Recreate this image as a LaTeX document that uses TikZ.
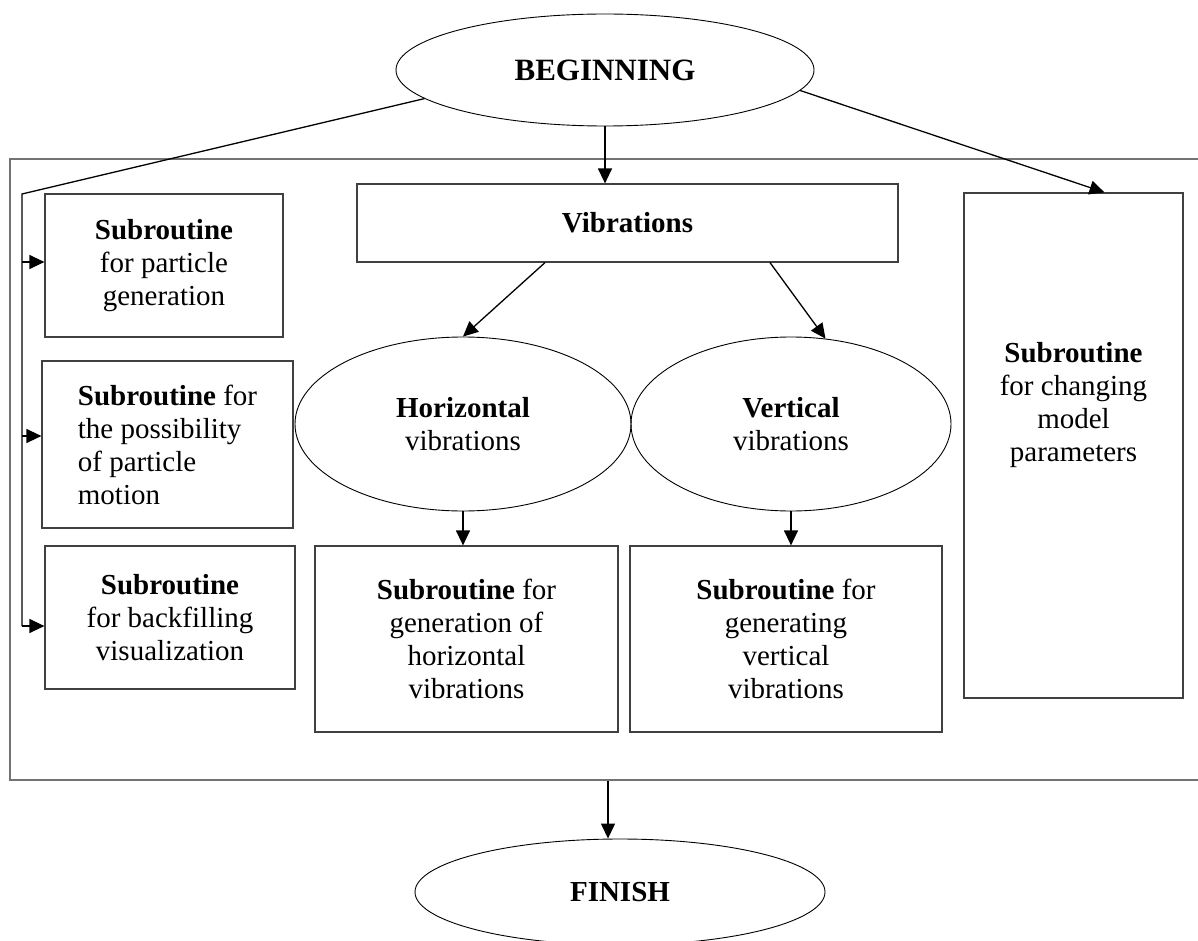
\documentclass[tikz,border=0pt]{standalone}
\usepackage{fontspec}
\setmainfont{Liberation Serif}
\usetikzlibrary{shapes.geometric,arrows.meta,calc}

\tikzset{
  txt/.style={font=\fontsize{29}{33}\selectfont},
  box/.style={txt, draw=black!75, line width=1.2pt, inner sep=0pt, align=center},
  oval/.style={txt, draw, ellipse, line width=0.9pt, inner sep=0pt, align=center},
  arr/.style={-{Triangle[length=15pt,width=14pt]}, line width=1.3pt},
}

\begin{document}
\begin{tikzpicture}[x=1pt,y=-1pt]
  \useasboundingbox (0,0) rectangle (1198,941);
  % outer frame
  \node[draw=black!55, line width=2pt, minimum width=1205pt, minimum height=621pt, inner sep=0pt] (frame) at (612.5,469.5) {};

  \node[oval, minimum width=418pt, minimum height=112pt, font=\fontsize{31}{36}\selectfont\bfseries] (begin) at (605,70) {BEGINNING};
  \node[box, minimum width=541pt, minimum height=78pt] (vib) at (627.5,223) {\textbf{Vibrations}};

  % left column
  \node[box, minimum width=238pt, minimum height=143pt] (gen) at (164,265.5)
    {\textbf{Subroutine}\\for particle\\generation};
  \node[box, align=left, minimum width=251pt, minimum height=167pt] (motion) at (167.5,444.5)
    {\textbf{Subroutine} for\\the possibility\\of particle\\motion};
  \node[box, minimum width=250pt, minimum height=143pt] (backfill) at (170,617.5)
    {\textbf{Subroutine}\\for backfilling\\visualization};

  % vibrations
  \node[oval, minimum width=336pt, minimum height=174pt] (horiz) at (463,424) {\textbf{Horizontal}\\vibrations};
  \node[oval, minimum width=320pt, minimum height=174pt] (vert) at (791,424) {\textbf{Vertical}\\vibrations};
  \node[box, minimum width=303pt, minimum height=186pt] (hgen) at (466.5,639)
    {\textbf{Subroutine} for\\generation of\\horizontal\\vibrations};
  \node[box, minimum width=312pt, minimum height=186pt] (vgen) at (786,639)
    {\textbf{Subroutine} for\\generating\\vertical\\vibrations};

  % right column
  \node[box, minimum width=219pt, minimum height=505pt] (param) at (1073.5,445.5) {};
  \node[txt, align=center] (paramtxt) at ([yshift=40pt]param.center)
    {\textbf{Subroutine}\\for changing\\model\\parameters};

  \node[oval, minimum width=410pt, minimum height=106pt, font=\fontsize{29}{33}\selectfont\bfseries] (finish) at (620,892) {FINISH};

  % connectors
  \coordinate (rail top) at (22,194);
  \foreach \n/\y in {gen/262, motion/436, backfill/626}{
    \coordinate (tap-\n) at (22,\y);
    \draw[arr] (tap-\n) -- (tap-\n -| \n.west);
  }
  \draw[line width=1.3pt] (begin.189) -- (rail top) -- (tap-backfill);
  \draw[arr] (begin.-6) -- ([xshift=31pt]param.north);
  \draw[arr] (begin.south) -- (begin.south |- vib.north);
  \draw[arr] ([xshift=-82.5pt]vib.south) -- (horiz.north);
  \draw[arr] ([xshift=142.5pt]vib.south) -- (vert.68);
  \draw[arr] (horiz.south) -- (horiz.south |- hgen.north);
  \draw[arr] (vert.south) -- (vert.south |- vgen.north);
  \draw[arr] ([xshift=-4.5pt]frame.south) -- ([xshift=-4.5pt]frame.south |- finish.north);
\end{tikzpicture}
\end{document}
